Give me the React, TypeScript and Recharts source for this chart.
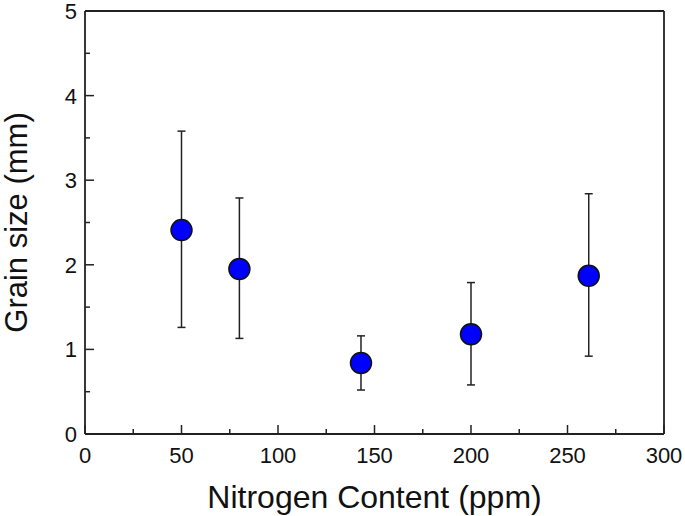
import React from 'react';
import {
  ScatterChart,
  Scatter,
  XAxis,
  YAxis,
  ErrorBar,
  Label,
} from 'recharts';

if (typeof document !== 'undefined') {
  document.body.style.margin = '0';
}

// values
const nitrogen = [50, 80, 143, 200, 261];
const grainSize = [2.41, 1.95, 0.84, 1.18, 1.87];
const errLower = [1.26, 1.13, 0.52, 0.58, 0.92];
const errUpper = [3.58, 2.79, 1.16, 1.79, 2.84];

const xTicks = [0, 25, 50, 75, 100, 125, 150, 175, 200, 225, 250, 275, 300];
const yTicks = [0, 0.5, 1, 1.5, 2, 2.5, 3, 3.5, 4, 4.5, 5];

const data = nitrogen.map((n, i) => ({
  x: n,
  y: grainSize[i],
  err: [grainSize[i] - errLower[i], errUpper[i] - grainSize[i]],
}));

const FONT = '"Liberation Sans", Arial, sans-serif';
const INK = '#222';

const BottomTick = ({ x, y, payload }: any) => {
  const major = payload.value % 50 === 0;
  return (
    <g>
      <line x1={x} x2={x} y1={y} y2={y - (major ? 9 : 5)} stroke={INK} strokeWidth={1.5} />
      {major && (
        <text x={x} y={y + 29} textAnchor="middle" fontSize={22} fontFamily={FONT} fill="#111">
          {payload.value}
        </text>
      )}
    </g>
  );
};

const TopTick = ({ x, y, payload }: any) => {
  const major = payload.value % 50 === 0;
  return <line x1={x} x2={x} y1={y} y2={y + (major ? 9 : 5)} stroke={INK} strokeWidth={1.5} />;
};

const LeftTick = ({ x, y, payload }: any) => {
  const major = Number.isInteger(payload.value);
  return (
    <g>
      <line x1={x} x2={x + (major ? 9 : 5)} y1={y} y2={y} stroke={INK} strokeWidth={1.5} />
      {major && (
        <text x={x - 8} y={y + 8} textAnchor="end" fontSize={22} fontFamily={FONT} fill="#111">
          {payload.value}
        </text>
      )}
    </g>
  );
};

const RightTick = ({ x, y, payload }: any) => {
  const major = Number.isInteger(payload.value);
  return <line x1={x} x2={x - (major ? 9 : 5)} y1={y} y2={y} stroke={INK} strokeWidth={1.5} />;
};

const Dot = (props: any) => (
  <circle cx={props.cx} cy={props.cy} r={10.5} fill="#0000ff" stroke="#111" strokeWidth={1.5} />
);

export default function App() {
  return (
    <ScatterChart
      width={685}
      height={516}
      margin={{ top: 10, right: 20, bottom: 22, left: 25 }}
    >
      <XAxis
        xAxisId="b"
        type="number"
        dataKey="x"
        domain={[0, 300]}
        ticks={xTicks}
        tick={<BottomTick />}
        tickSize={0}
        tickMargin={0}
        tickLine={false}
        axisLine={{ stroke: INK, strokeWidth: 1.8 }}
        height={60}
        interval={0}
      >
        <Label
          content={({ viewBox }: any) => (
            <text
              x={viewBox.x + viewBox.width / 2}
              y={viewBox.y + 74}
              textAnchor="middle"
              fontSize={32}
              fontFamily={FONT}
              fill="#111"
            >
              Nitrogen Content (ppm)
            </text>
          )}
        />
      </XAxis>
      <XAxis
        xAxisId="t"
        orientation="top"
        type="number"
        dataKey="x"
        domain={[0, 300]}
        ticks={xTicks}
        tick={<TopTick />}
        tickSize={0}
        tickMargin={0}
        tickLine={false}
        axisLine={{ stroke: INK, strokeWidth: 1.8 }}
        height={1}
        interval={0}
      />
      <YAxis
        yAxisId="l"
        type="number"
        dataKey="y"
        domain={[0, 5]}
        ticks={yTicks}
        tick={<LeftTick />}
        tickSize={0}
        tickMargin={0}
        tickLine={false}
        axisLine={{ stroke: INK, strokeWidth: 1.8 }}
        width={60}
        interval={0}
      >
        <Label
          content={({ viewBox }: any) => {
            const cx = viewBox.x + 2;
            const cy = viewBox.y + viewBox.height / 2;
            return (
              <text
                x={cx}
                y={cy}
                transform={`rotate(-90, ${cx}, ${cy})`}
                textAnchor="middle"
                fontSize={31}
                fontFamily={FONT}
                fill="#111"
              >
                Grain size (mm)
              </text>
            );
          }}
        />
      </YAxis>
      <YAxis
        yAxisId="r"
        orientation="right"
        type="number"
        dataKey="y"
        domain={[0, 5]}
        ticks={yTicks}
        tick={<RightTick />}
        tickSize={0}
        tickMargin={0}
        tickLine={false}
        axisLine={{ stroke: INK, strokeWidth: 1.8 }}
        width={1}
        interval={0}
      />
      <Scatter
        data={data}
        xAxisId="b"
        yAxisId="l"
        shape={<Dot />}
        isAnimationActive={false}
      >
        <ErrorBar dataKey="err" direction="y" width={4} stroke={INK} strokeWidth={1.5} />
      </Scatter>
    </ScatterChart>
  );
}
